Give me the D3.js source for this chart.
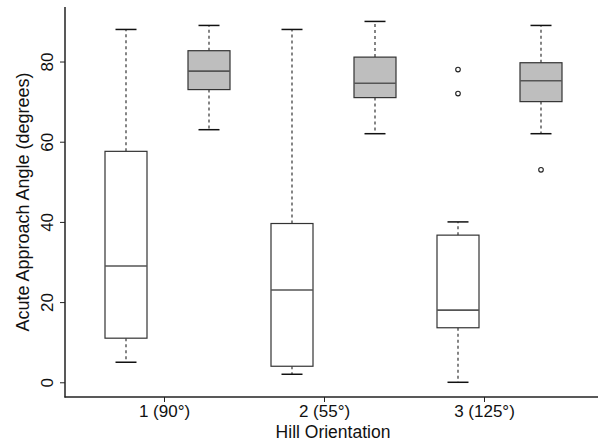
<!DOCTYPE html>
<html>
<head>
<meta charset="utf-8">
<script src="https://cdn.jsdelivr.net/npm/d3@7"></script>
<style>
  html, body { margin: 0; padding: 0; background: #fff; }
  svg { display: block; font-family: "Liberation Sans", Arial, Helvetica, sans-serif; }
</style>
</head>
<body>
<svg id="chart" width="601" height="445"></svg>
<script>
// ---- data ----
const categories = ["1 (90°)", "2 (55°)", "3 (125°)"];
const yTicks = [0, 20, 40, 60, 80];

// first (white) box in each group
const whiteLow  = [5, 2, 0];
const whiteQ1   = [11, 4, 13.6];
const whiteMed  = [29, 23, 18];
const whiteQ3   = [57.6, 39.6, 36.7];
const whiteHigh = [88, 88, 40];
const whiteOut  = [[], [], [78, 72]];

// second (grey) box in each group
const greyLow  = [63, 62, 62];
const greyQ1   = [73, 71, 70];
const greyMed  = [77.6, 74.6, 75.2];
const greyQ3   = [82.7, 81.1, 79.7];
const greyHigh = [89, 90, 89];
const greyOut  = [[], [], [53]];

// ---- build records ----
const boxes = [];
categories.forEach((c, i) => {
  boxes.push({pos: i * 2, fill: "#ffffff", low: whiteLow[i], q1: whiteQ1[i], med: whiteMed[i], q3: whiteQ3[i], high: whiteHigh[i], out: whiteOut[i]});
  boxes.push({pos: i * 2 + 1, fill: "#bebebe", low: greyLow[i], q1: greyQ1[i], med: greyMed[i], q3: greyQ3[i], high: greyHigh[i], out: greyOut[i]});
});

const svg = d3.select("#chart");
const pLeft = 65, pTop = 7, pBottom = 397, pRight = 598;

const y = d3.scaleLinear().domain([-3.67, 93.6]).range([pBottom, pTop]);
const xBox = d3.scaleLinear().domain([0, 5]).range([126, 541]);
const xCat = d3.scalePoint().domain(categories).range([164, 484]);

const boxW = 42, capW = 21;

const g = svg.append("g");

boxes.forEach(b => {
  const cx = xBox(b.pos);
  // whiskers (dashed)
  g.append("line").attr("x1", cx).attr("x2", cx).attr("y1", y(b.q3)).attr("y2", y(b.high))
    .attr("stroke", "#222").attr("stroke-width", 1.1).attr("stroke-dasharray", "3,3");
  g.append("line").attr("x1", cx).attr("x2", cx).attr("y1", y(b.q1)).attr("y2", y(b.low))
    .attr("stroke", "#222").attr("stroke-width", 1.1).attr("stroke-dasharray", "3,3");
  // caps
  [b.high, b.low].forEach(v => {
    g.append("line").attr("x1", cx - capW / 2).attr("x2", cx + capW / 2).attr("y1", y(v)).attr("y2", y(v))
      .attr("stroke", "#111").attr("stroke-width", 1.5);
  });
  // box
  g.append("rect").attr("x", cx - boxW / 2).attr("width", boxW)
    .attr("y", y(b.q3)).attr("height", y(b.q1) - y(b.q3))
    .attr("fill", b.fill).attr("stroke", "#333").attr("stroke-width", 1.2);
  // median
  g.append("line").attr("x1", cx - boxW / 2).attr("x2", cx + boxW / 2).attr("y1", y(b.med)).attr("y2", y(b.med))
    .attr("stroke", "#555").attr("stroke-width", 1.6);
  // outliers
  b.out.forEach(v => {
    g.append("circle").attr("cx", cx).attr("cy", y(v)).attr("r", 2.3)
      .attr("fill", "#fff").attr("stroke", "#222").attr("stroke-width", 1.1);
  });
});

// ---- y axis ----
const yAxis = svg.append("g").attr("transform", `translate(${pLeft},0)`)
  .call(d3.axisLeft(y).tickValues(yTicks).tickSize(5).tickSizeOuter(0));
yAxis.select(".domain").remove();
yAxis.selectAll(".tick line").attr("stroke", "#222");
yAxis.selectAll(".tick text")
  .attr("transform", "rotate(-90)")
  .attr("x", 0).attr("y", -12).attr("dy", 0)
  .attr("text-anchor", "middle")
  .attr("font-size", 17).attr("fill", "#111")
  .style("font-family", '"Liberation Sans", Arial, Helvetica, sans-serif');
svg.append("line").attr("x1", pLeft).attr("x2", pLeft).attr("y1", pTop).attr("y2", pBottom + 0.5)
  .attr("stroke", "#222").attr("stroke-width", 1.5);

// ---- x axis ----
const xAxis = svg.append("g").attr("transform", `translate(0,${pBottom})`)
  .call(d3.axisBottom(xCat).tickSize(5).tickSizeOuter(0));
xAxis.select(".domain").remove();
xAxis.selectAll(".tick line").attr("stroke", "#222");
xAxis.selectAll(".tick text")
  .attr("y", 20).attr("dy", 0)
  .attr("font-size", 17).attr("fill", "#111")
  .style("font-family", '"Liberation Sans", Arial, Helvetica, sans-serif');
svg.append("line").attr("x1", pLeft - 0.5).attr("x2", pRight).attr("y1", pBottom).attr("y2", pBottom)
  .attr("stroke", "#222").attr("stroke-width", 1.5);

// ---- titles ----
svg.append("text").attr("x", 333).attr("y", 438).attr("text-anchor", "middle")
  .attr("font-size", 17.5).attr("fill", "#111").text("Hill Orientation");
svg.append("text").attr("transform", `translate(29,${(pTop + pBottom) / 2}) rotate(-90)`)
  .attr("text-anchor", "middle").attr("font-size", 18).attr("fill", "#111")
  .text("Acute Approach Angle (degrees)");
</script>
</body>
</html>
